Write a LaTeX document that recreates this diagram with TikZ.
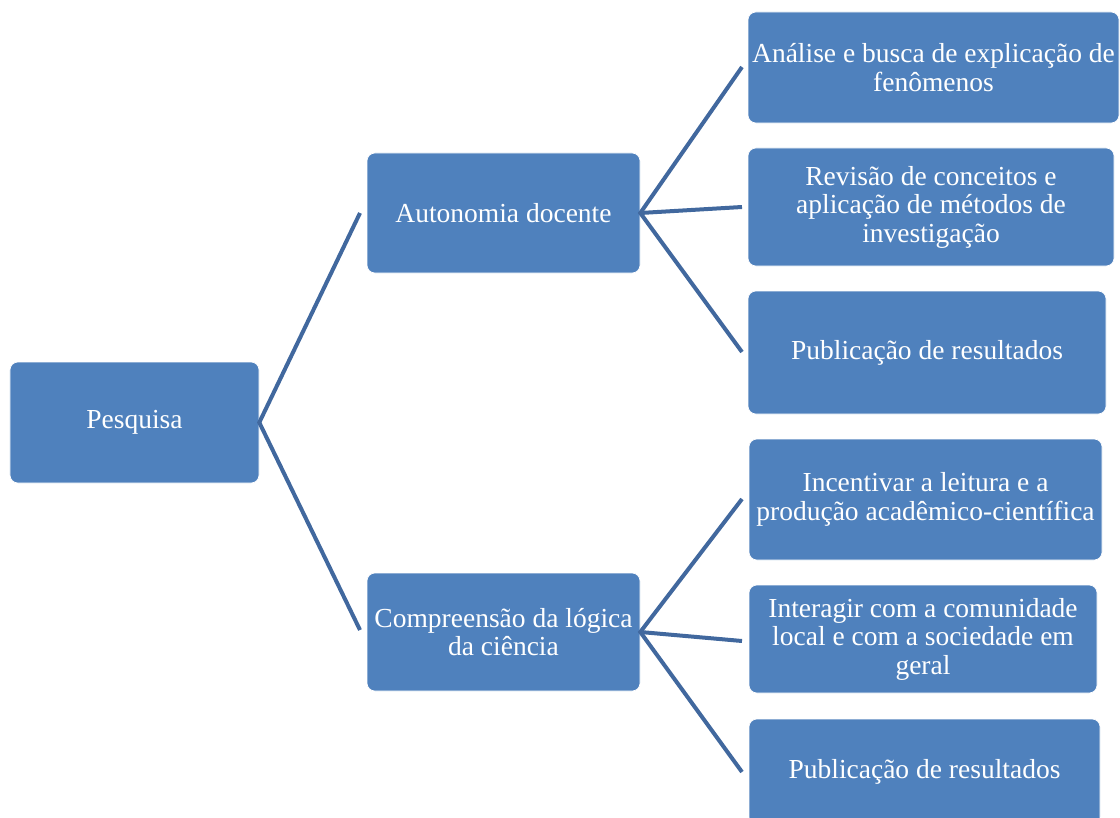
\documentclass[tikz,border=0pt]{standalone}
\usepackage{fontspec}
\setmainfont{Liberation Serif}
\definecolor{boxfill}{HTML}{4F81BD}
\definecolor{linecol}{HTML}{41689E}
\begin{document}
\begin{tikzpicture}[x=1bp,y=-1bp,
  box/.style={fill=boxfill, draw=white, line width=0.6bp, rounded corners=8bp, text=white,
    align=center, inner sep=0pt, font=\fontsize{27.5bp}{28.5bp}\selectfont},
  link/.style={draw=linecol, line width=4bp}]
\useasboundingbox (0,0) rectangle (1120,818);
\node[box, minimum width=249bp, minimum height=121bp] (p) at (134.5,422.5) {Pesquisa};
\node[box, minimum width=273bp, minimum height=120bp] (a) at (503.5,213) {Autonomia docente};
\node[box, minimum width=273bp, minimum height=118bp] (c) at (503.5,632) {Compreensão da lógica\\da ciência};
\node[box, minimum width=371bp, minimum height=111bp] (a1) at (933.5,67.5) {Análise e busca de explicação de\\fenômenos};
\node[box, minimum width=366bp, minimum height=118bp] (a2) at (931,207) {Revisão de conceitos e\\aplicação de métodos de\\investigação};
\node[box, minimum width=358bp, minimum height=123bp] (a3) at (927,352.5) {Publicação de resultados};
\node[box, minimum width=353bp, minimum height=121bp] (b1) at (925.5,499.5) {Incentivar a leitura e a\\produção acadêmico-científica};
\node[box, minimum width=348bp, minimum height=108bp] (b2) at (923,639) {Interagir com a comunidade\\local e com a sociedade em\\geral};
\node[box, minimum width=351bp, minimum height=106bp] (b3) at (924.5,772) {Publicação de resultados};
\coordinate (pa) at (360,213);
\coordinate (pc) at (360,630);
\coordinate (aa1) at (742,67);
\coordinate (aa2) at (742,207);
\coordinate (aa3) at (742,352);
\coordinate (cb1) at (742,499);
\coordinate (cb2) at (742,641);
\coordinate (cb3) at (742,772);
\draw[link] (pa) -- (p.east) -- (pc);
\draw[link] (aa1) -- (a.east) -- (aa3);
\draw[link] (a.east) -- (aa2);
\draw[link] (cb1) -- (c.east) -- (cb3);
\draw[link] (c.east) -- (cb2);
\end{tikzpicture}
\end{document}
